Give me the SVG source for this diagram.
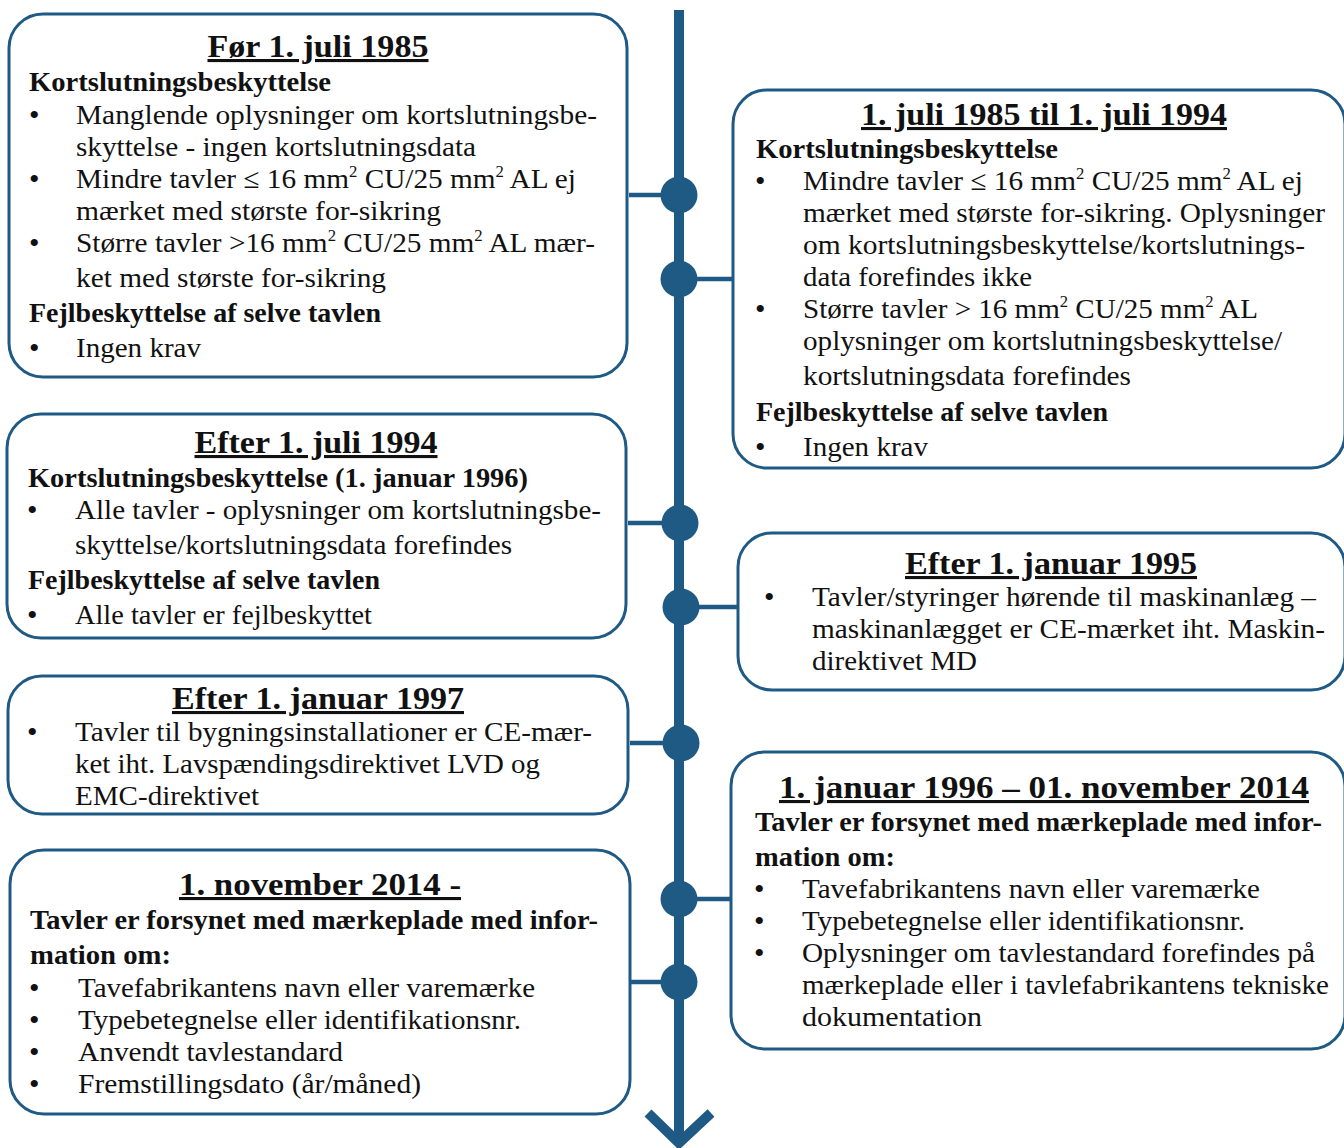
<svg xmlns="http://www.w3.org/2000/svg" width="1344" height="1148" viewBox="0 0 1344 1148">
<defs>
<style>
.box{fill:#fff;stroke:#1F5A85;stroke-width:3}
.t{font-family:"Liberation Serif","Times New Roman",serif;font-size:28px;fill:#111}
.b{font-family:"Liberation Serif","Times New Roman",serif;font-size:30px;fill:#111}
.ti{font-family:"Liberation Serif","Times New Roman",serif;font-size:31px;font-weight:bold;fill:#111;text-anchor:middle;text-decoration:underline}
.h{font-family:"Liberation Serif","Times New Roman",serif;font-size:28px;font-weight:bold;fill:#111}
.sup{font-size:16px}
.spine{stroke:#1F5A85;stroke-width:10;fill:none}
.con{stroke:#1F5A85;stroke-width:4.5}
.dot{fill:#1F5A85}
</style>
</defs>
<rect width="1344" height="1148" fill="#fff"/>
<g id="connectors">
<line class="spine" x1="679" y1="10" x2="679" y2="1140"/>
<polyline class="spine" points="648,1113 679,1143 711,1113"/>
<line class="con" x1="629" y1="195" x2="665" y2="195"/>
<line class="con" x1="693" y1="279" x2="733" y2="279"/>
<line class="con" x1="628" y1="523" x2="666" y2="523"/>
<line class="con" x1="695" y1="607" x2="738" y2="607"/>
<line class="con" x1="630" y1="743" x2="667" y2="743"/>
<line class="con" x1="693" y1="899" x2="733" y2="899"/>
<line class="con" x1="630" y1="982" x2="665" y2="982"/>
<circle class="dot" cx="679" cy="195" r="18.5"/>
<circle class="dot" cx="679" cy="279" r="18.5"/>
<circle class="dot" cx="680" cy="523" r="18.5"/>
<circle class="dot" cx="681" cy="607" r="18.5"/>
<circle class="dot" cx="681" cy="743" r="18.5"/>
<circle class="dot" cx="679" cy="899" r="18.5"/>
<circle class="dot" cx="679" cy="982" r="18.5"/>
</g>
<g id="box1">
<rect class="box" x="9" y="14" width="618" height="363" rx="34"/>
<text class="ti" x="318" y="57" textLength="221" lengthAdjust="spacingAndGlyphs">Før 1. juli 1985</text>
<text class="h" x="29" y="91" textLength="302" lengthAdjust="spacingAndGlyphs">Kortslutningsbeskyttelse</text>
<text class="b" x="29" y="125">•</text><text class="t" x="76" y="124" textLength="521" lengthAdjust="spacingAndGlyphs">Manglende oplysninger om kortslutningsbe-</text>
<text class="t" x="76" y="156" textLength="400" lengthAdjust="spacingAndGlyphs">skyttelse - ingen kortslutningsdata</text>
<text class="b" x="29" y="189">•</text><text class="t" x="76" y="188" textLength="500" lengthAdjust="spacingAndGlyphs">Mindre tavler ≤ 16 mm<tspan class="sup" dy="-11">2</tspan><tspan dy="11"> CU/25 mm</tspan><tspan class="sup" dy="-11">2</tspan><tspan dy="11"> AL ej</tspan></text>
<text class="t" x="76" y="220" textLength="365" lengthAdjust="spacingAndGlyphs">mærket med største for-sikring</text>
<text class="b" x="29" y="253">•</text><text class="t" x="76" y="252" textLength="519" lengthAdjust="spacingAndGlyphs">Større tavler &gt;16 mm<tspan class="sup" dy="-11">2</tspan><tspan dy="11"> CU/25 mm</tspan><tspan class="sup" dy="-11">2</tspan><tspan dy="11"> AL mær-</tspan></text>
<text class="t" x="76" y="287" textLength="310" lengthAdjust="spacingAndGlyphs">ket med største for-sikring</text>
<text class="h" x="29" y="322" textLength="352" lengthAdjust="spacingAndGlyphs">Fejlbeskyttelse af selve tavlen</text>
<text class="b" x="29" y="358">•</text><text class="t" x="76" y="357" textLength="125" lengthAdjust="spacingAndGlyphs">Ingen krav</text>
</g>
<g id="box2">
<rect class="box" x="733" y="90" width="612" height="378" rx="34"/>
<text class="ti" x="1044" y="125" textLength="366" lengthAdjust="spacingAndGlyphs">1. juli 1985 til 1. juli 1994</text>
<text class="h" x="756" y="158" textLength="302" lengthAdjust="spacingAndGlyphs">Kortslutningsbeskyttelse</text>
<text class="b" x="755" y="191">•</text><text class="t" x="803" y="190" textLength="500" lengthAdjust="spacingAndGlyphs">Mindre tavler ≤ 16 mm<tspan class="sup" dy="-11">2</tspan><tspan dy="11"> CU/25 mm</tspan><tspan class="sup" dy="-11">2</tspan><tspan dy="11"> AL ej</tspan></text>
<text class="t" x="803" y="222" textLength="522" lengthAdjust="spacingAndGlyphs">mærket med største for-sikring. Oplysninger</text>
<text class="t" x="803" y="254" textLength="502" lengthAdjust="spacingAndGlyphs">om kortslutningsbeskyttelse/kortslutnings-</text>
<text class="t" x="803" y="286" textLength="229" lengthAdjust="spacingAndGlyphs">data forefindes ikke</text>
<text class="b" x="755" y="319">•</text><text class="t" x="803" y="318" textLength="455" lengthAdjust="spacingAndGlyphs">Større tavler &gt; 16 mm<tspan class="sup" dy="-11">2</tspan><tspan dy="11"> CU/25 mm</tspan><tspan class="sup" dy="-11">2</tspan><tspan dy="11"> AL</tspan></text>
<text class="t" x="803" y="350" textLength="479" lengthAdjust="spacingAndGlyphs">oplysninger om kortslutningsbeskyttelse/</text>
<text class="t" x="803" y="385" textLength="328" lengthAdjust="spacingAndGlyphs">kortslutningsdata forefindes</text>
<text class="h" x="756" y="421" textLength="352" lengthAdjust="spacingAndGlyphs">Fejlbeskyttelse af selve tavlen</text>
<text class="b" x="755" y="457">•</text><text class="t" x="803" y="456" textLength="125" lengthAdjust="spacingAndGlyphs">Ingen krav</text>
</g>
<g id="box3">
<rect class="box" x="7" y="414" width="619" height="224" rx="34"/>
<text class="ti" x="316" y="453" textLength="243" lengthAdjust="spacingAndGlyphs">Efter 1. juli 1994</text>
<text class="h" x="28" y="487" textLength="500" lengthAdjust="spacingAndGlyphs">Kortslutningsbeskyttelse (1. januar 1996)</text>
<text class="b" x="27" y="520">•</text><text class="t" x="75" y="519" textLength="526" lengthAdjust="spacingAndGlyphs">Alle tavler - oplysninger om kortslutningsbe-</text>
<text class="t" x="75" y="554" textLength="437" lengthAdjust="spacingAndGlyphs">skyttelse/kortslutningsdata forefindes</text>
<text class="h" x="28" y="589" textLength="352" lengthAdjust="spacingAndGlyphs">Fejlbeskyttelse af selve tavlen</text>
<text class="b" x="27" y="625">•</text><text class="t" x="75" y="624" textLength="297" lengthAdjust="spacingAndGlyphs">Alle tavler er fejlbeskyttet</text>
</g>
<g id="box4">
<rect class="box" x="738" y="533" width="607" height="157" rx="34"/>
<text class="ti" x="1051" y="574" textLength="292" lengthAdjust="spacingAndGlyphs">Efter 1. januar 1995</text>
<text class="b" x="764" y="607">•</text><text class="t" x="812" y="606" textLength="504" lengthAdjust="spacingAndGlyphs">Tavler/styringer hørende til maskinanlæg –</text>
<text class="t" x="812" y="638" textLength="513" lengthAdjust="spacingAndGlyphs">maskinanlægget er CE-mærket iht. Maskin-</text>
<text class="t" x="812" y="670" textLength="165" lengthAdjust="spacingAndGlyphs">direktivet MD</text>
</g>
<g id="box5">
<rect class="box" x="8" y="676" width="620" height="138" rx="34"/>
<text class="ti" x="318" y="709" textLength="292" lengthAdjust="spacingAndGlyphs">Efter 1. januar 1997</text>
<text class="b" x="27" y="742">•</text><text class="t" x="75" y="741" textLength="517" lengthAdjust="spacingAndGlyphs">Tavler til bygningsinstallationer er CE-mær-</text>
<text class="t" x="75" y="773" textLength="465" lengthAdjust="spacingAndGlyphs">ket iht. Lavspændingsdirektivet LVD og</text>
<text class="t" x="75" y="805" textLength="184" lengthAdjust="spacingAndGlyphs">EMC-direktivet</text>
</g>
<g id="box6">
<rect class="box" x="731" y="752" width="614" height="297" rx="34"/>
<text class="ti" x="1044" y="798" textLength="530" lengthAdjust="spacingAndGlyphs">1. januar 1996 – 01. november 2014</text>
<text class="h" x="755" y="831" textLength="567" lengthAdjust="spacingAndGlyphs">Tavler er forsynet med mærkeplade med infor-</text>
<text class="h" x="755" y="866" textLength="140" lengthAdjust="spacingAndGlyphs">mation om:</text>
<text class="b" x="754" y="899">•</text><text class="t" x="802" y="898" textLength="458" lengthAdjust="spacingAndGlyphs">Tavefabrikantens navn eller varemærke</text>
<text class="b" x="754" y="931">•</text><text class="t" x="802" y="930" textLength="443" lengthAdjust="spacingAndGlyphs">Typebetegnelse eller identifikationsnr.</text>
<text class="b" x="754" y="963">•</text><text class="t" x="802" y="962" textLength="513" lengthAdjust="spacingAndGlyphs">Oplysninger om tavlestandard forefindes på</text>
<text class="t" x="802" y="994" textLength="527" lengthAdjust="spacingAndGlyphs">mærkeplade eller i tavlefabrikantens tekniske</text>
<text class="t" x="802" y="1026" textLength="180" lengthAdjust="spacingAndGlyphs">dokumentation</text>
</g>
<g id="box7">
<rect class="box" x="10" y="850" width="620" height="264" rx="34"/>
<text class="ti" x="320" y="895" textLength="282" lengthAdjust="spacingAndGlyphs">1. november 2014 -</text>
<text class="h" x="30" y="929" textLength="568" lengthAdjust="spacingAndGlyphs">Tavler er forsynet med mærkeplade med infor-</text>
<text class="h" x="30" y="964" textLength="141" lengthAdjust="spacingAndGlyphs">mation om:</text>
<text class="b" x="29" y="998">•</text><text class="t" x="78" y="997" textLength="457" lengthAdjust="spacingAndGlyphs">Tavefabrikantens navn eller varemærke</text>
<text class="b" x="29" y="1030">•</text><text class="t" x="78" y="1029" textLength="443" lengthAdjust="spacingAndGlyphs">Typebetegnelse eller identifikationsnr.</text>
<text class="b" x="29" y="1062">•</text><text class="t" x="78" y="1061" textLength="265" lengthAdjust="spacingAndGlyphs">Anvendt tavlestandard</text>
<text class="b" x="29" y="1094">•</text><text class="t" x="78" y="1093" textLength="343" lengthAdjust="spacingAndGlyphs">Fremstillingsdato (år/måned)</text>
</g>
</svg>
